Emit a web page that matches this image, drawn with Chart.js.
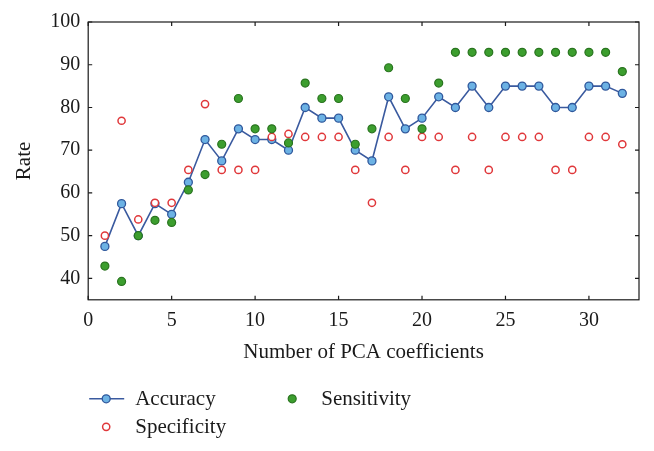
<!DOCTYPE html>
<html>
<head>
<meta charset="utf-8">
<script src="https://cdn.jsdelivr.net/npm/chart.js@4/dist/chart.umd.min.js"></script>
<style>
  html, body { margin: 0; padding: 0; background: #fff; }
  #wrap { width: 654px; height: 451px; }
</style>
</head>
<body>
<div id="wrap"><canvas id="pcaChart"></canvas></div>
<script>
// valeurs
var coeffs = [1, 2, 3, 4, 5, 6, 7, 8, 9, 10, 11, 12, 13, 14, 15, 16, 17, 18, 19, 20, 21, 22, 23, 24, 25, 26, 27, 28, 29, 30, 31, 32];
var accuracy = [47.5, 57.5, 50, 57.5, 55, 62.5, 72.5, 67.5, 75, 72.5, 72.5, 70, 80, 77.5, 77.5, 70, 67.5, 82.5, 75, 77.5, 82.5, 80, 85, 80, 85, 85, 85, 80, 80, 85, 85, 83.3];
var specificity = [50, 76.9, 53.8, 57.7, 57.7, 65.4, 80.8, 65.4, 65.4, 65.4, 73.1, 73.8, 73.1, 73.1, 73.1, 65.4, 57.7, 73.1, 65.4, 73.1, 73.1, 65.4, 73.1, 65.4, 73.1, 73.1, 73.1, 65.4, 65.4, 73.1, 73.1, 71.4];
var sensitivity = [42.9, 39.3, 50, 53.6, 53.1, 60.7, 64.3, 71.4, 82.1, 75, 75, 71.7, 85.7, 82.1, 82.1, 71.4, 75, 89.3, 82.1, 75, 85.7, 92.9, 92.9, 92.9, 92.9, 92.9, 92.9, 92.9, 92.9, 92.9, 92.9, 88.4];
var xTicks = [0, 5, 10, 15, 20, 25, 30];
var yTicks = [40, 50, 60, 70, 80, 90, 100];

var FONT = "'Liberation Serif', 'Times New Roman', serif";
var INK = '#1a1a1a';

function toPoints(ys) {
    return coeffs.map((x, i) => ({ x: x, y: ys[i] }));
}

// cadre + graduations tournées vers l'intérieur sur les 4 côtés
var framePlugin = {
    id: 'frame',
    afterDatasetsDraw(chart) {
        var ctx = chart.ctx, a = chart.chartArea;
        var sx = chart.scales.x, sy = chart.scales.y;
        var len = 4;
        ctx.save();
        ctx.strokeStyle = INK;
        ctx.lineWidth = 1.2;
        ctx.strokeRect(a.left, a.top, a.right - a.left, a.bottom - a.top);
        ctx.beginPath();
        sx.ticks.forEach(t => {
            var px = sx.getPixelForValue(t.value);
            ctx.moveTo(px, a.bottom); ctx.lineTo(px, a.bottom - len);
            ctx.moveTo(px, a.top); ctx.lineTo(px, a.top + len);
        });
        sy.ticks.forEach(t => {
            var py = sy.getPixelForValue(t.value);
            ctx.moveTo(a.left, py); ctx.lineTo(a.left + len, py);
            ctx.moveTo(a.right, py); ctx.lineTo(a.right - len, py);
        });
        ctx.stroke();
        ctx.restore();
    }
};

function drawMarker(ctx, ds, x, y) {
    ctx.beginPath();
    ctx.arc(x, y, ds.pointRadius, 0, Math.PI * 2);
    ctx.fillStyle = ds.pointBackgroundColor;
    ctx.fill();
    ctx.lineWidth = ds.pointBorderWidth;
    ctx.strokeStyle = ds.pointBorderColor;
    ctx.stroke();
}

// légende sur deux colonnes, sous l'axe
var legendPlugin = {
    id: 'twoColLegend',
    afterDraw(chart) {
        var ctx = chart.ctx, a = chart.chartArea;
        var ds = chart.data.datasets;
        var rows = [a.bottom + 99, a.bottom + 127];
        var cols = [a.left + 18, a.left + 204];
        var slots = [[cols[0], rows[0]], [cols[0], rows[1]], [cols[1], rows[0]]];
        ctx.save();
        ctx.font = '21px ' + FONT;
        ctx.textBaseline = 'middle';
        ctx.fillStyle = INK;
        ds.forEach((d, i) => {
            var s = slots[i];
            if (d.showLine) {
                ctx.beginPath();
                ctx.moveTo(s[0] - 17, s[1]); ctx.lineTo(s[0] + 18, s[1]);
                ctx.strokeStyle = d.borderColor;
                ctx.lineWidth = d.borderWidth;
                ctx.stroke();
            }
            drawMarker(ctx, d, s[0], s[1]);
            ctx.fillStyle = INK;
            ctx.fillText(d.label, s[0] + 29, s[1] + 1);
        });
        ctx.restore();
    }
};

new Chart(document.getElementById('pcaChart'), {
    type: 'scatter',
    data: {
        datasets: [
            { label: 'Accuracy', data: toPoints(accuracy), showLine: true, borderColor: '#3a5a9f', borderWidth: 1.6,
              pointRadius: 4, pointBackgroundColor: '#6cb2e4', pointBorderColor: '#30589c', pointBorderWidth: 1.3, order: 3 },
            { label: 'Specificity', data: toPoints(specificity), showLine: false,
              pointRadius: 3.6, pointBackgroundColor: '#ffffff', pointBorderColor: '#e0383b', pointBorderWidth: 1.5, order: 2 },
            { label: 'Sensitivity', data: toPoints(sensitivity), showLine: false,
              pointRadius: 4, pointBackgroundColor: '#3c9e2e', pointBorderColor: '#2a7420', pointBorderWidth: 1.2, order: 1 }
        ]
    },
    options: {
        responsive: true,
        maintainAspectRatio: false,
        animation: false,
        layout: { padding: { left: 8, right: 15, top: 22, bottom: 82 } },
        plugins: { legend: { display: false }, tooltip: { enabled: false } },
        scales: {
            x: {
                type: 'linear', min: 0, max: 33,
                afterBuildTicks: s => { s.ticks = xTicks.map(v => ({ value: v })); },
                grid: { display: false, drawTicks: false },
                border: { display: false },
                ticks: { color: INK, font: { family: FONT, size: 20 }, padding: 9, maxRotation: 0 },
                title: { display: true, text: 'Number of PCA coefficients', color: INK,
                         font: { family: FONT, size: 21 }, padding: { top: -2, bottom: 4 } }
            },
            y: {
                type: 'linear', min: 35, max: 100,
                afterBuildTicks: s => { s.ticks = yTicks.map(v => ({ value: v })); },
                grid: { display: false, drawTicks: false },
                border: { display: false },
                ticks: { color: INK, font: { family: FONT, size: 20 }, padding: 8 },
                title: { display: true, text: 'Rate', color: INK,
                         font: { family: FONT, size: 21 }, padding: { top: 4, bottom: 5 } }
            }
        }
    },
    plugins: [framePlugin, legendPlugin]
});
</script>
</body>
</html>
